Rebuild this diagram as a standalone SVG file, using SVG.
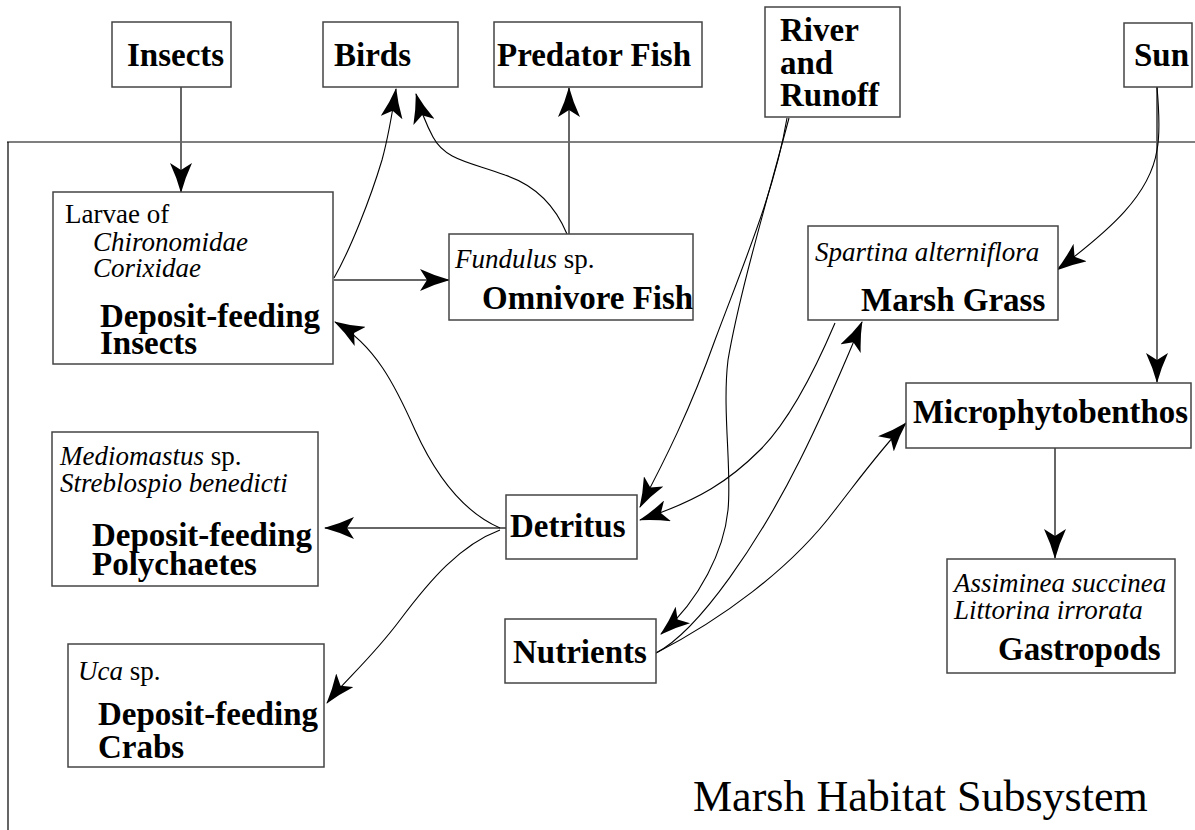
<svg xmlns="http://www.w3.org/2000/svg" width="1195" height="830" viewBox="0 0 1195 830">
<style>
.box{fill:#fff;stroke:#444;stroke-width:1.5}
.b{font-family:"Liberation Serif","Times New Roman",serif;font-weight:bold;font-size:33px;fill:#000}
.i{font-family:"Liberation Serif","Times New Roman",serif;font-style:italic;font-size:27px;fill:#000}
.r{font-family:"Liberation Serif","Times New Roman",serif;font-size:27px;fill:#000}
.cv{fill:none;stroke:#000;stroke-width:1.1;marker-end:url(#ah)}
.st{fill:none;stroke:#666;stroke-width:2;marker-end:url(#ah)}
.bd{fill:none;stroke:#000;stroke-width:1.2}
</style>
<defs>
<marker id="ah" markerUnits="userSpaceOnUse" markerWidth="30" markerHeight="22" viewBox="0 0 30 22" refX="29" refY="11" orient="auto">
<path d="M30,11 Q15,7 0,0 L7,11 L0,22 Q15,15 30,11 Z" fill="#000"/>
</marker>
</defs>
<rect width="1195" height="830" fill="#fff"/>
<g id="boundary">
<path class="bd" d="M7,142 L1195,142 M8,142 L8,830"/>
<text x="693" y="811" font-family="Liberation Serif, Times New Roman, serif" font-size="44">Marsh Habitat Subsystem</text>
</g>
<g id="connectors">
<path class="st" d="M181,87 L181,192"/>
<path class="st" d="M334,280 L449,280"/>
<path class="st" d="M569,234 L569,88"/>
<path class="st" d="M506,528 L325,528"/>
<path class="st" d="M1157,87 L1157,382"/>
<path class="st" d="M1055,448 L1055,558"/>
<path class="cv" d="M334,278 C350,250 370,200 382,160 C388,138 392,115 396,89"/>
<path class="cv" d="M567,234 C555,205 535,185 505,175 C470,162 445,160 433,137 C425,122 420,108 416,94"/>
<path class="cv" d="M1157,87 C1159,110 1160,135 1157,150 C1150,195 1110,230 1057,270"/>
<path class="cv" d="M787,118 C775,190 745,260 715,340 C690,410 665,460 640,507"/>
<path class="cv" d="M789,118 C770,190 740,290 728,360 C722,410 732,470 728,510 C724,550 700,600 661,634"/>
<path class="cv" d="M835,323 C815,370 790,420 760,450 C730,480 700,500 640,520"/>
<path class="cv" d="M656,653 C700,630 760,540 800,460 C830,400 850,350 862,322"/>
<path class="cv" d="M656,653 C720,620 790,570 835,510 C860,478 880,450 906,423"/>
<path class="cv" d="M500,528 C470,515 440,485 415,430 C395,385 375,345 335,322"/>
<path class="cv" d="M500,530 C460,545 430,580 400,620 C370,660 345,680 327,703"/>
</g>
<g id="insects">
<rect class="box" x="112" y="22" width="119" height="65"/>
<text class="b" x="127" y="66">Insects</text>
</g>
<g id="birds">
<rect class="box" x="323" y="22" width="135" height="65"/>
<text class="b" x="334" y="66">Birds</text>
</g>
<g id="predator-fish">
<rect class="box" x="494" y="22" width="208" height="65"/>
<text class="b" x="497" y="66">Predator Fish</text>
</g>
<g id="river-runoff">
<rect class="box" x="765" y="7" width="135" height="110"/>
<text class="b" x="780" y="41">River</text>
<text class="b" x="780" y="74">and</text>
<text class="b" x="780" y="106">Runoff</text>
</g>
<g id="sun">
<rect class="box" x="1124" y="23" width="68" height="64"/>
<text class="b" x="1134" y="66">Sun</text>
</g>
<g id="deposit-feeding-insects">
<rect class="box" x="53" y="192" width="280" height="172"/>
<text class="r" x="65" y="223">Larvae of</text>
<text class="i" x="93" y="251">Chironomidae</text>
<text class="i" x="93" y="277">Corixidae</text>
<text class="b" x="100" y="327">Deposit-feeding</text>
<text class="b" x="100" y="354">Insects</text>
</g>
<g id="omnivore-fish">
<rect class="box" x="449" y="234" width="244" height="86"/>
<text x="455" y="268"><tspan class="i">Fundulus</tspan><tspan class="r"> sp.</tspan></text>
<text class="b" x="482" y="309">Omnivore Fish</text>
</g>
<g id="marsh-grass">
<rect class="box" x="808" y="226" width="250" height="94"/>
<text class="i" x="815" y="261">Spartina alterniflora</text>
<text class="b" x="861" y="311">Marsh Grass</text>
</g>
<g id="microphytobenthos">
<rect class="box" x="906" y="383" width="285" height="65"/>
<text class="b" x="913" y="423" textLength="275" lengthAdjust="spacingAndGlyphs">Microphytobenthos</text>
</g>
<g id="deposit-feeding-polychaetes">
<rect class="box" x="52" y="432" width="266" height="154"/>
<text x="60" y="465"><tspan class="i">Mediomastus</tspan><tspan class="r"> sp.</tspan></text>
<text class="i" x="60" y="492">Streblospio benedicti</text>
<text class="b" x="92" y="546">Deposit-feeding</text>
<text class="b" x="92" y="575">Polychaetes</text>
</g>
<g id="detritus">
<rect class="box" x="506" y="495" width="131" height="64"/>
<text class="b" x="510" y="537">Detritus</text>
</g>
<g id="nutrients">
<rect class="box" x="505" y="619" width="151" height="64"/>
<text class="b" x="513" y="663">Nutrients</text>
</g>
<g id="gastropods">
<rect class="box" x="947" y="559" width="228" height="114"/>
<text class="i" x="954" y="592">Assiminea succinea</text>
<text class="i" x="954" y="619">Littorina irrorata</text>
<text class="b" x="998" y="660">Gastropods</text>
</g>
<g id="deposit-feeding-crabs">
<rect class="box" x="68" y="644" width="256" height="123"/>
<text x="78" y="680"><tspan class="i">Uca</tspan><tspan class="r"> sp.</tspan></text>
<text class="b" x="98" y="725">Deposit-feeding</text>
<text class="b" x="98" y="758">Crabs</text>
</g>
</svg>
